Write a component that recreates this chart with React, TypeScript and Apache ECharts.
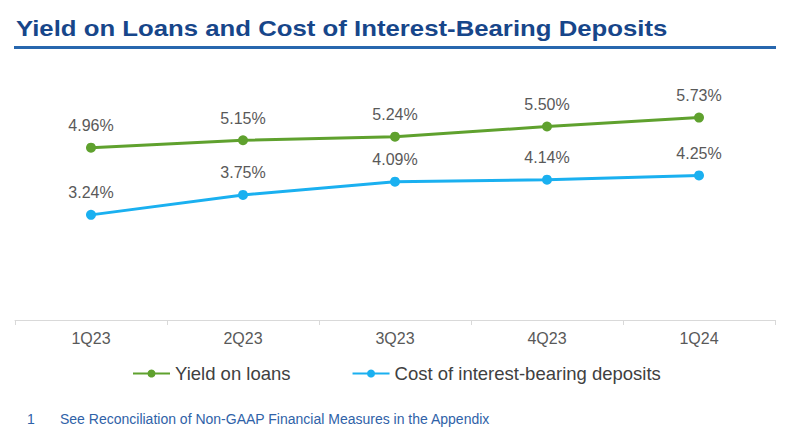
import React, { useEffect, useRef } from "react";
import * as echarts from "echarts";

const categories = ["1Q23", "2Q23", "3Q23", "4Q23", "1Q24"];
const yieldOnLoans = [4.96, 5.15, 5.24, 5.5, 5.73];
const costOfDeposits = [3.24, 3.75, 4.09, 4.14, 4.25];
const seriesNames = ["Yield on loans", "Cost of interest-bearing deposits"];
const titleText = "Yield on Loans and Cost of Interest-Bearing Deposits";
const footnoteNum = "1";
const footnoteText = "See Reconciliation of Non-GAAP Financial Measures in the Appendix";

const GREEN = "#5FA12E";
const BLUE = "#1AB0F0";
const FONT = "Liberation Sans, Arial, sans-serif";

export default function App() {
  const ref = useRef<HTMLDivElement>(null);
  useEffect(() => {
    if (!ref.current) return;
    const chart = echarts.init(ref.current, null, { renderer: "svg" });
    const labelCfg = {
      show: true,
      position: "top",
      distance: 9,
      color: "#595959",
      fontSize: 16,
      fontFamily: FONT,
      formatter: (p: any) => p.value.toFixed(2) + "%",
    };
    chart.setOption({
      animation: false,
      backgroundColor: "#ffffff",
      textStyle: { fontFamily: FONT },
      grid: { left: 15, right: 11, top: 107, bottom: 116, containLabel: false },
      xAxis: {
        type: "category",
        data: categories,
        boundaryGap: true,
        axisLine: { show: true, lineStyle: { color: "#D9D9D9", width: 1 } },
        axisTick: { show: true, length: 5, lineStyle: { color: "#D9D9D9" } },
        axisLabel: { color: "#595959", fontSize: 16, margin: 10, fontFamily: FONT },
      },
      yAxis: {
        type: "value",
        min: 0.55,
        max: 6,
        show: false,
        splitLine: { show: false },
      },
      legend: {
        show: true,
        left: 132,
        top: 364,
        padding: 0,
        itemWidth: 37,
        itemHeight: 10,
        itemGap: 61,
        textStyle: { color: "#404040", fontSize: 18.5, fontFamily: FONT },
        data: seriesNames,
      },
      series: [
        {
          name: seriesNames[0],
          type: "line",
          data: yieldOnLoans,
          symbol: "circle",
          symbolSize: 10,
          lineStyle: { color: GREEN, width: 3 },
          itemStyle: { color: GREEN },
          label: labelCfg,
        },
        {
          name: seriesNames[1],
          type: "line",
          data: costOfDeposits,
          symbol: "circle",
          symbolSize: 10,
          lineStyle: { color: BLUE, width: 3 },
          itemStyle: { color: BLUE },
          label: labelCfg,
        },
      ],
      graphic: [
        {
          type: "text",
          left: 16,
          top: 16,
          scaleX: 1.12,
          style: {
            text: titleText,
            fill: "#17468A",
            font: "bold 23px Liberation Sans, Arial, sans-serif",
          },
        },
        {
          type: "rect",
          shape: { x: 14, y: 46, width: 762, height: 3 },
          style: { fill: "#2767AE" },
        },
        {
          type: "text",
          left: 27,
          top: 412,
          style: { text: footnoteNum, fill: "#2F62A8", font: "14px Liberation Sans, Arial, sans-serif" },
        },
        {
          type: "text",
          left: 60,
          top: 412,
          style: { text: footnoteText, fill: "#2F62A8", font: "14px Liberation Sans, Arial, sans-serif" },
        },
      ],
    });
    return () => chart.dispose();
  }, []);
  return (
    <div
      ref={ref}
      style={{ position: "fixed", left: 0, top: 0, width: 786, height: 436 }}
    />
  );
}
